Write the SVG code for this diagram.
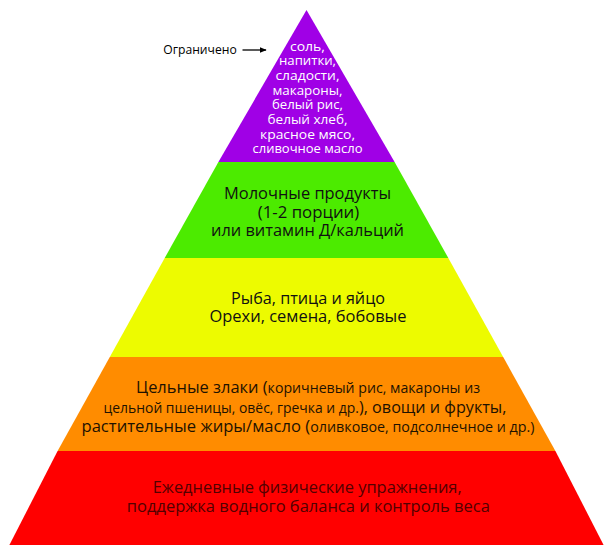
<svg xmlns="http://www.w3.org/2000/svg" width="604" height="545" viewBox="0 0 604 545">
  <defs>
    <style>
      text { font-family: "Open Sans", "Noto Sans", "Liberation Sans", sans-serif; text-anchor: middle; font-weight: 500; }
      .w { fill: #ffffff; font-size: 13.5px; }
      .k { fill: #111111; font-size: 16.5px; }
      .o { fill: #1e1200; font-size: 15.8px; }
      .o .s { font-size: 13.6px; }
      .r { fill: #520000; font-size: 15.5px; }
      .lab { fill: #000000; font-size: 13px; text-anchor: start; }
    </style>
    <marker id="ah" viewBox="0 0 10 10" refX="9" refY="5" markerWidth="7" markerHeight="7" markerUnits="userSpaceOnUse" orient="auto">
      <path d="M0,1 L10,5 L0,9 Z" fill="#000"/>
    </marker>
  </defs>
  <rect width="604" height="545" fill="#ffffff"/>

  <g id="tier-limited">
    <polygon points="306.5,10 394.6,162 218.4,162" fill="#a000e6"/>
    <text class="w" x="307.5" y="50.7" textLength="35" lengthAdjust="spacingAndGlyphs">соль,</text>
    <text class="w" x="307.5" y="65.4" textLength="57" lengthAdjust="spacingAndGlyphs">напитки,</text>
    <text class="w" x="307.5" y="80" textLength="64" lengthAdjust="spacingAndGlyphs">сладости,</text>
    <text class="w" x="307.5" y="94.7" textLength="70" lengthAdjust="spacingAndGlyphs">макароны,</text>
    <text class="w" x="307.5" y="109.3" textLength="71" lengthAdjust="spacingAndGlyphs">белый рис,</text>
    <text class="w" x="307.5" y="124" textLength="80" lengthAdjust="spacingAndGlyphs">белый хлеб,</text>
    <text class="w" x="307.5" y="138.7" textLength="95" lengthAdjust="spacingAndGlyphs">красное мясо,</text>
    <text class="w" x="307.5" y="153.3" textLength="110" lengthAdjust="spacingAndGlyphs">сливочное масло</text>
  </g>

  <g id="label-limited">
    <text class="lab" x="163.3" y="53.5" textLength="73.4" lengthAdjust="spacingAndGlyphs">Ограничено</text>
  </g>

  <g id="tier-dairy">
    <polygon points="218.4,162 394.6,162 448.3,258 164.7,258" fill="#4ceb00"/>
    <text class="k" x="307.5" y="199.3" textLength="167" lengthAdjust="spacingAndGlyphs">Молочные продукты</text>
    <text class="k" x="308.5" y="218" textLength="101.5" lengthAdjust="spacingAndGlyphs">(1-2 порции)</text>
    <text class="k" x="307.5" y="236.3" textLength="193" lengthAdjust="spacingAndGlyphs">или витамин Д/кальций</text>
  </g>

  <g id="tier-protein">
    <polygon points="164.7,258 448.3,258 503.2,357 109.8,357" fill="#edfb00"/>
    <text class="k" x="308" y="304" textLength="154" lengthAdjust="spacingAndGlyphs">Рыба, птица и яйцо</text>
    <text class="k" x="308" y="321.7" textLength="197" lengthAdjust="spacingAndGlyphs">Орехи, семена, бобовые</text>
  </g>

  <g id="tier-grains">
    <polygon points="109.8,357 503.2,357 555.4,451 57.6,451" fill="#ff8c00"/>
    <text class="o" x="308" y="393.3" textLength="344" lengthAdjust="spacingAndGlyphs">Цельные злаки (<tspan class="s">коричневый рис, макароны из</tspan></text>
    <text class="o" x="305" y="412.7" textLength="403" lengthAdjust="spacingAndGlyphs"><tspan class="s">цельной пшеницы, овёс, гречка и др.</tspan>), овощи и фрукты,</text>
    <text class="o" x="308" y="431.7" textLength="453" lengthAdjust="spacingAndGlyphs">растительные жиры/масло (<tspan class="s">оливковое, подсолнечное и др.)</tspan></text>
  </g>

  <g id="tier-base">
    <polygon points="57.6,451 555.4,451 603.6,545 9.4,545" fill="#ff0000"/>
    <text class="r" x="307.2" y="493.3" textLength="309" lengthAdjust="spacingAndGlyphs">Ежедневные физические упражнения,</text>
    <text class="r" x="308.3" y="511.7" textLength="363" lengthAdjust="spacingAndGlyphs">поддержка водного баланса и контроль веса</text>
  </g>

  <g id="connectors">
    <line x1="242.5" y1="50" x2="266" y2="50" stroke="#000" stroke-width="1.3" marker-end="url(#ah)"/>
  </g>
</svg>
